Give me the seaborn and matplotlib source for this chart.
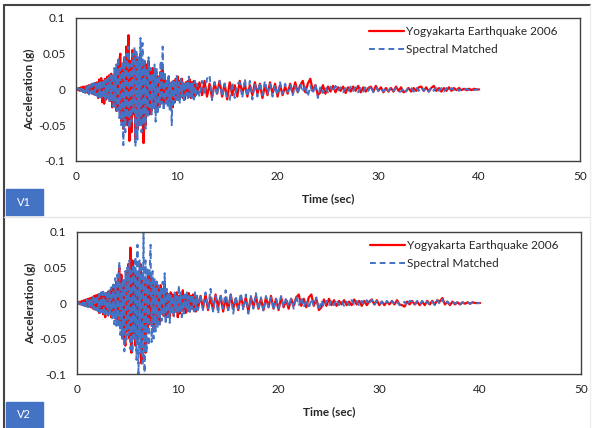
import numpy as np
import pandas as pd
import matplotlib.pyplot as plt
import seaborn as sns
from matplotlib.lines import Line2D
from matplotlib.patches import Rectangle
from matplotlib.ticker import MultipleLocator

# time axis: 0.1 s steps through the strong motion, 0.25 s steps in the tail
time_strong = np.round(np.arange(0, 12.01, 0.1), 2)
time_tail = np.round(np.arange(12.25, 40.01, 0.25), 2)
time_s = np.concatenate([time_strong, time_tail])

# ---- V1 : recorded (Yogyakarta 2006) acceleration, g
v1_record = [
    0, 0.001, -0.001, 0.002, -0.002, 0.003, -0.002, 0.004, -0.003, 0.004,
    -0.004, 0.005, -0.005, 0.006, -0.004, 0.007, -0.006, 0.008, -0.007, 0.009,
    -0.008, 0.010, -0.012, 0.014, -0.010, 0.016, -0.018, 0.012, -0.020, 0.015,
    -0.014, 0.018, -0.012, 0.020, -0.016, 0.022, -0.025, 0.018, -0.020, 0.028,
    -0.030, 0.035, -0.028, 0.040, 0.050, -0.045, 0.030, -0.055, 0.045, -0.040,
    0.060, -0.050, 0.076, -0.072, 0.040, -0.060, 0.055, -0.035, 0.050, -0.070,
    0.045, -0.055, 0.030, -0.040, 0.050, -0.045, 0.035, -0.075, 0.040, -0.050,
    0.035, -0.030, 0.040, -0.035, 0.025, -0.030, 0.030, -0.020, 0.025, -0.028,
    0.020, -0.025, 0.018, -0.022, 0.025, -0.015, 0.030, -0.020, 0.015, -0.018,
    0.012, -0.015, 0.018, -0.010, -0.020, 0.010, -0.025, 0.012, -0.018, 0.015,
    -0.012, 0.018, -0.015, 0.012, -0.010, 0.015, -0.012, 0.008, -0.014, 0.010,
    -0.008, 0.012, -0.010, 0.014, -0.012, 0.010, -0.008, 0.012, -0.010, 0.008,
    -0.006,
    0.010, -0.008, 0.012, -0.010,
    0.008, -0.012, 0.010, -0.006,
    0.012, -0.010, 0.008, -0.014,
    0.010, -0.008, 0.006, -0.010,
    0.012, -0.006, 0.008, -0.010,
    0.006, -0.008, 0.010, -0.006,
    0.008, -0.012, 0.006, -0.008,
    0.010, -0.006, 0.008, -0.010,
    0.006, -0.008, 0.004, -0.006,
    0.008, -0.005, 0.010, -0.004,
    0.006, 0.012, -0.004, 0.008,
    0.015, -0.002, 0.006, -0.008,
    -0.004, 0.006, -0.006, 0.004,
    -0.003, 0.005, -0.004, 0.003,
    -0.002, 0.004, -0.005, 0.003,
    -0.003, 0.004, -0.002, 0.005,
    -0.004, 0.003, -0.003, 0.002,
    0.004, -0.003, 0.005, -0.002,
    0.003, -0.004, 0.002, -0.003,
    0.002, -0.003, 0.004, -0.002,
    0.003, -0.004, -0.002, 0.002,
    -0.003, 0.002, -0.002, 0.003,
    0.004, -0.002, 0.003, -0.003,
    0.002, 0.005, -0.002, 0.002,
    -0.003, 0.002, -0.002, 0.003,
    -0.002, 0.002, -0.001, 0.002,
    -0.001, 0.001, -0.001, 0.001,
    -0.001, 0.001, 0.000, 0.000,
]

# ---- V1 : spectral matched acceleration, g
v1_matched = [
    0, -0.001, 0.002, -0.001, 0.003, -0.002, 0.003, -0.004, 0.003, -0.005,
    0.004, -0.006, 0.005, -0.007, 0.006, -0.005, 0.008, -0.006, 0.009, -0.008,
    0.010, -0.009, 0.012, -0.011, 0.010, -0.014, 0.013, -0.012, 0.015, -0.016,
    0.014, -0.012, 0.016, -0.018, 0.020, -0.015, 0.022, -0.024, 0.030, -0.025,
    0.035, -0.030, 0.045, -0.040, 0.030, -0.050, 0.040, -0.078, 0.045, -0.060,
    0.050, -0.040, 0.060, -0.055, 0.035, -0.045, 0.050, -0.030, 0.060, -0.080,
    0.055, -0.070, 0.045, -0.050, 0.072, -0.060, 0.065, -0.050, 0.040, -0.055,
    0.030, -0.040, 0.045, -0.025, 0.030, -0.035, 0.020, -0.030, 0.035, -0.045,
    0.030, -0.035, 0.020, -0.025, 0.040, -0.020, 0.060, -0.030, 0.025, -0.020,
    0.015, -0.025, 0.020, -0.030, 0.010, -0.050, 0.015, -0.020, 0.010, -0.015,
    0.020, -0.015, 0.010, -0.020, 0.015, -0.010, 0.012, -0.018, 0.010, -0.008,
    0.012, -0.015, 0.018, -0.010, 0.008, -0.012, 0.010, -0.014, 0.012, -0.010,
    0.008,
    -0.010, 0.012, -0.008, 0.015,
    0.020, -0.015, 0.010, -0.008,
    0.012, -0.010, 0.008, -0.012,
    -0.015, 0.010, -0.012, 0.008,
    0.010, -0.012, 0.015, -0.010,
    0.012, -0.014, 0.008, -0.010,
    0.010, -0.008, 0.012, -0.006,
    0.008, -0.010, 0.006, -0.008,
    0.010, -0.006, 0.008, -0.004,
    0.006, -0.008, 0.005, -0.006,
    0.008, -0.004, 0.006, -0.010,
    0.005, -0.006, 0.008, -0.012,
    0.004, -0.005, 0.003, -0.004,
    0.004, -0.003, 0.005, -0.002,
    0.003, -0.004, 0.002, -0.003,
    0.004, -0.002, 0.003, -0.004,
    0.002, -0.003, 0.004, -0.002,
    0.005, -0.004, 0.003, -0.002,
    0.002, -0.003, 0.003, -0.002,
    0.003, -0.002, 0.002, -0.003,
    -0.003, 0.002, -0.003, 0.004,
    0.002, -0.003, 0.003, -0.002,
    0.003, -0.002, 0.002, -0.003,
    0.003, -0.002, 0.004, -0.002,
    0.002, -0.003, 0.002, -0.002,
    0.002, -0.001, 0.002, -0.002,
    0.001, -0.001, 0.001, -0.001,
    0.001, -0.001, 0.000, 0.000,
]

# ---- V2 : recorded acceleration, g
v2_record = [
    0, 0.001, -0.001, 0.002, -0.002, 0.003, -0.003, 0.004, -0.004, 0.005,
    -0.004, 0.006, -0.005, 0.007, -0.006, 0.008, -0.008, 0.010, -0.009, 0.011,
    -0.010, 0.012, -0.014, 0.013, -0.012, 0.015, -0.016, 0.012, -0.020, 0.014,
    -0.012, 0.016, -0.015, 0.018, -0.020, 0.022, -0.018, 0.025, -0.022, 0.030,
    -0.028, 0.035, 0.050, -0.035, 0.040, -0.050, 0.030, -0.045, -0.060, 0.045,
    -0.040, 0.055, -0.050, 0.078, -0.070, 0.060, -0.045, 0.050, -0.060, 0.040,
    -0.050, 0.045, -0.040, 0.055, -0.085, 0.040, -0.050, 0.035, -0.070, 0.030,
    -0.035, 0.040, -0.030, 0.035, -0.025, 0.030, -0.035, 0.025, -0.020, 0.030,
    -0.025, 0.020, -0.030, 0.025, -0.015, 0.020, -0.018, 0.030, -0.020, 0.015,
    -0.015, 0.012, -0.020, 0.015, -0.010, 0.012, -0.018, 0.010, -0.012, 0.015,
    -0.020, 0.010, -0.015, 0.012, -0.010, 0.018, -0.012, 0.010, -0.014, 0.012,
    -0.010, 0.014, -0.012, 0.010, -0.008, 0.012, -0.010, 0.008, -0.012, 0.010,
    -0.008,
    0.010, -0.008, 0.012, -0.010,
    0.008, -0.010, 0.012, -0.006,
    0.010, -0.012, 0.008, -0.010,
    0.012, -0.008, 0.006, -0.010,
    0.010, -0.006, 0.008, -0.012,
    0.008, -0.006, 0.010, -0.008,
    0.006, -0.010, 0.008, -0.006,
    0.010, -0.008, 0.006, -0.010,
    0.008, -0.006, 0.004, -0.008,
    0.006, -0.004, 0.008, 0.012,
    -0.004, 0.006, -0.006, 0.008,
    0.012, -0.004, 0.006, -0.010,
    -0.006, 0.005, -0.004, 0.006,
    -0.003, 0.004, -0.004, 0.003,
    -0.002, 0.004, -0.003, 0.002,
    -0.003, 0.005, -0.002, 0.003,
    -0.004, 0.003, -0.003, 0.002,
    0.005, -0.002, 0.004, -0.003,
    0.002, -0.003, 0.002, -0.002,
    0.003, -0.002, 0.004, -0.002,
    -0.003, -0.005, 0.002, -0.002,
    0.003, -0.002, 0.002, -0.003,
    0.002, -0.003, 0.003, -0.002,
    0.003, -0.002, 0.004, 0.002,
    0.007, -0.002, 0.002, -0.003,
    0.002, -0.002, 0.001, -0.002,
    0.001, -0.001, 0.001, -0.001,
    0.001, 0.000, 0.000, 0.000,
]

# ---- V2 : spectral matched acceleration, g
v2_matched = [
    0, -0.001, 0.001, -0.002, 0.002, -0.003, 0.003, -0.004, 0.004, -0.005,
    0.005, -0.006, 0.006, -0.007, 0.007, -0.008, 0.008, -0.009, 0.010, -0.010,
    0.011, -0.012, 0.012, -0.014, 0.015, -0.013, 0.016, -0.018, 0.014, -0.015,
    0.016, -0.018, 0.020, -0.016, 0.022, -0.024, 0.026, -0.030, 0.035, -0.032,
    0.040, -0.035, 0.058, -0.045, 0.030, -0.050, 0.035, -0.068, 0.045, -0.055,
    0.050, -0.045, 0.060, -0.065, 0.045, -0.070, 0.055, -0.050, 0.065, -0.080,
    0.082, -0.105, 0.060, -0.070, 0.050, -0.085, 0.098, -0.105, 0.060, -0.070,
    0.050, -0.060, 0.040, 0.082, -0.055, 0.045, -0.050, 0.035, -0.040, 0.030,
    -0.035, 0.025, -0.030, 0.020, -0.025, 0.030, -0.020, 0.042, -0.030, 0.020,
    -0.020, 0.015, -0.028, 0.012, -0.015, 0.010, -0.020, 0.015, -0.012, 0.010,
    -0.015, 0.025, -0.012, 0.015, -0.020, 0.010, -0.015, 0.012, -0.010, 0.015,
    -0.012, 0.010, -0.014, 0.012, -0.008, 0.010, -0.012, 0.015, -0.010, 0.012,
    -0.010,
    0.012, -0.010, 0.015, -0.008,
    0.020, -0.012, 0.010, -0.015,
    0.012, -0.008, 0.018, -0.010,
    0.012, -0.015, 0.010, -0.008,
    0.014, -0.010, 0.012, -0.015,
    0.010, -0.008, 0.014, -0.010,
    0.008, -0.012, 0.010, -0.006,
    0.008, -0.010, 0.006, -0.008,
    0.010, -0.006, 0.008, -0.005,
    0.006, -0.008, 0.010, -0.004,
    0.008, -0.006, 0.005, -0.008,
    0.006, -0.004, 0.008, -0.010,
    0.004, -0.006, 0.003, -0.004,
    0.004, -0.003, 0.005, -0.003,
    0.003, -0.004, 0.002, -0.003,
    0.004, -0.002, 0.003, -0.004,
    0.003, -0.003, 0.004, -0.002,
    0.005, -0.003, 0.003, -0.002,
    0.002, -0.003, 0.003, -0.002,
    0.003, -0.002, 0.002, -0.003,
    -0.003, 0.002, -0.004, 0.003,
    0.002, -0.003, 0.003, -0.002,
    0.003, -0.002, 0.002, -0.003,
    0.002, -0.003, 0.004, -0.002,
    0.005, -0.002, 0.002, -0.002,
    0.002, -0.001, 0.002, -0.002,
    0.001, -0.001, 0.001, -0.001,
    0.001, -0.001, 0.000, 0.000,
]

series_names = ["Yogyakarta Earthquake 2006", "Spectral Matched"]
panel_tags = ["V1", "V2"]
y_ticks = [-0.1, -0.05, 0, 0.05, 0.1]
y_tick_labels = ["-0.1", "-0.05", "0", "0.05", "0.1"]
x_ticks = [0, 10, 20, 30, 40, 50]

RED = "#FF0000"
BLUE = "#4472C4"

sns.set_theme(style="white")
plt.rcParams["font.family"] = ["Lato", "DejaVu Sans"]

fig = plt.figure(figsize=(5.95, 4.28), dpi=100)

panels = [
    (fig.add_axes([0.1277, 0.624, 0.847, 0.334]), v1_record, v1_matched),
    (fig.add_axes([0.1294, 0.126, 0.847, 0.332]), v2_record, v2_matched),
]

for ax, rec, sm in panels:
    df = pd.DataFrame({"time": time_s, "rec": rec, "sm": sm})
    sns.lineplot(data=df, x="time", y="rec", ax=ax, color=RED, lw=1.6,
                 estimator=None, sort=False, label=series_names[0])
    sns.lineplot(data=df, x="time", y="sm", ax=ax, color=BLUE, lw=1.4,
                 estimator=None, sort=False, label=series_names[1],
                 dashes=False)
    ax.lines[1].set_dashes((3, 2))

    ax.set_xlim(0, 50)
    ax.set_ylim(-0.1, 0.1)
    ax.set_xticks(x_ticks)
    ax.set_xticklabels([str(v) for v in x_ticks])
    ax.set_yticks(y_ticks)
    ax.set_yticklabels(y_tick_labels)
    ax.xaxis.set_minor_locator(MultipleLocator(2))
    ax.yaxis.set_minor_locator(MultipleLocator(0.01))
    ax.tick_params(axis="both", which="major", direction="inout", length=7,
                   width=1, color="#404040", labelsize=8.5, pad=4,
                   labelcolor="#222222")
    ax.tick_params(axis="both", which="minor", direction="inout", length=5,
                   width=1, color="#404040")
    for sp in ax.spines.values():
        sp.set_color("#404040")
        sp.set_linewidth(1)
        sp.set_visible(True)

    ax.set_xlabel("Time (sec)", fontsize=8.5, fontweight="bold", labelpad=8)
    ax.set_ylabel("Acceleration (g)", fontsize=8.5, fontweight="bold",
                  labelpad=2)

    ax.legend(loc="upper left", bbox_to_anchor=(0.565, 1.0), frameon=False,
              fontsize=8.5, handlelength=3.0, handletextpad=0.1,
              labelspacing=0.55, borderaxespad=0.3)

# outer frame and the blue panel tags
fig.add_artist(Line2D([4 / 595, 4 / 595], [0, 1 - 5 / 428], color="#444444",
                      lw=1.5, transform=fig.transFigure))
fig.add_artist(Line2D([4 / 595, 590 / 595], [1 - 5 / 428, 1 - 5 / 428],
                      color="#444444", lw=1.5, transform=fig.transFigure))
fig.add_artist(Line2D([4 / 595, 590 / 595], [1 - 217 / 428, 1 - 217 / 428],
                      color="#E6E6E6", lw=1, transform=fig.transFigure))
fig.add_artist(Line2D([590 / 595, 590 / 595], [0, 1 - 5 / 428],
                      color="#EEEEEE", lw=1, transform=fig.transFigure))

for tag, y_top in zip(panel_tags, [189, 402]):
    fig.add_artist(Rectangle((6 / 595, 1 - (y_top + 26) / 428), 37 / 595,
                             26 / 428, color=BLUE,
                             transform=fig.transFigure))
    fig.text(24 / 595, 1 - (y_top + 13) / 428, tag, color="white",
             fontsize=8, ha="center", va="center")

plt.savefig("out.png", dpi=100)
